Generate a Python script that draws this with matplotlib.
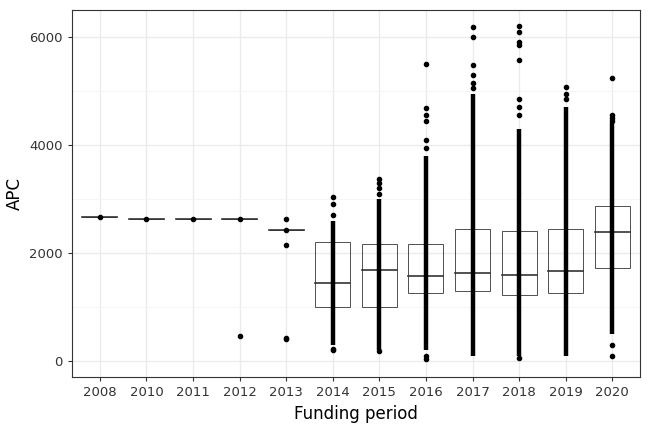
import matplotlib.pyplot as plt

years = ["2008", "2010", "2011", "2012", "2013", "2014", "2015", "2016", "2017", "2018", "2019", "2020"]
q1 = [2660, 2630, 2630, 2630, 2430, 990, 1000, 1260, 1300, 1220, 1260, 1720]
median = [2660, 2630, 2630, 2630, 2430, 1440, 1680, 1570, 1620, 1600, 1670, 2380]
q3 = [2660, 2630, 2630, 2630, 2430, 2200, 2160, 2160, 2440, 2400, 2440, 2870]
# dense runs of points (low, high) per year
dense_lo = [None, None, None, None, None, 300, 200, 200, 100, 100, 100, 500]
dense_hi = [None, None, None, None, None, 2600, 3000, 3800, 4950, 4300, 4700, 4400]
# individual points
points = [
    [2660],
    [2630],
    [2630],
    [2630, 470],
    [2630, 2430, 2140, 420, 410],
    [3040, 2900, 2700, 230, 200],
    [3360, 3300, 3200, 3100, 180],
    [5500, 4680, 4550, 4450, 4100, 3950, 100, 30],
    [6180, 6000, 5480, 5300, 5150, 5050],
    [6200, 6100, 5900, 5850, 5570, 4850, 4700, 4550, 60],
    [5080, 4950, 4850],
    [5240, 4550, 4500, 4450, 300, 100],
]

fig, ax = plt.subplots(figsize=(6.48, 4.32), dpi=100)
fig.subplots_adjust(left=0.111, right=0.988, top=0.977, bottom=0.127)
xs = list(range(1, len(years) + 1))
w = 0.75
for x, a, m, b in zip(xs, q1, median, q3):
    ax.add_patch(plt.Rectangle((x - w / 2, a), w, b - a, fill=False, lw=0.6, ec="#333333", zorder=2))
    ax.plot([x - w / 2, x + w / 2], [m, m], color="#333333", lw=1.2, zorder=2)
for x, lo, hi in zip(xs, dense_lo, dense_hi):
    if lo is not None:
        ax.vlines(x, lo, hi, color="black", lw=3.2, zorder=3)
for x, p in zip(xs, points):
    ax.plot([x] * len(p), p, "o", color="black", ms=3, zorder=3)

ax.set_xlim(0.4, len(years) + 0.6)
ax.set_ylim(-300, 6500)
ax.set_xticks(xs)
ax.set_xticklabels(years)
ax.set_yticks([0, 2000, 4000, 6000])
ax.set_yticks([1000, 3000, 5000], minor=True)
ax.grid(True, which="major", color="#ebebeb", lw=1.0)
ax.grid(True, which="minor", axis="y", color="#f4f4f4", lw=0.6)
ax.set_axisbelow(True)
ax.tick_params(which="minor", length=0)
ax.tick_params(colors="#333333", labelsize=9.5, length=3)
for s in ax.spines.values():
    s.set_color("#333333")
ax.set_xlabel("Funding period", fontsize=12)
ax.set_ylabel("APC", fontsize=12)
fig.savefig("out.png")
